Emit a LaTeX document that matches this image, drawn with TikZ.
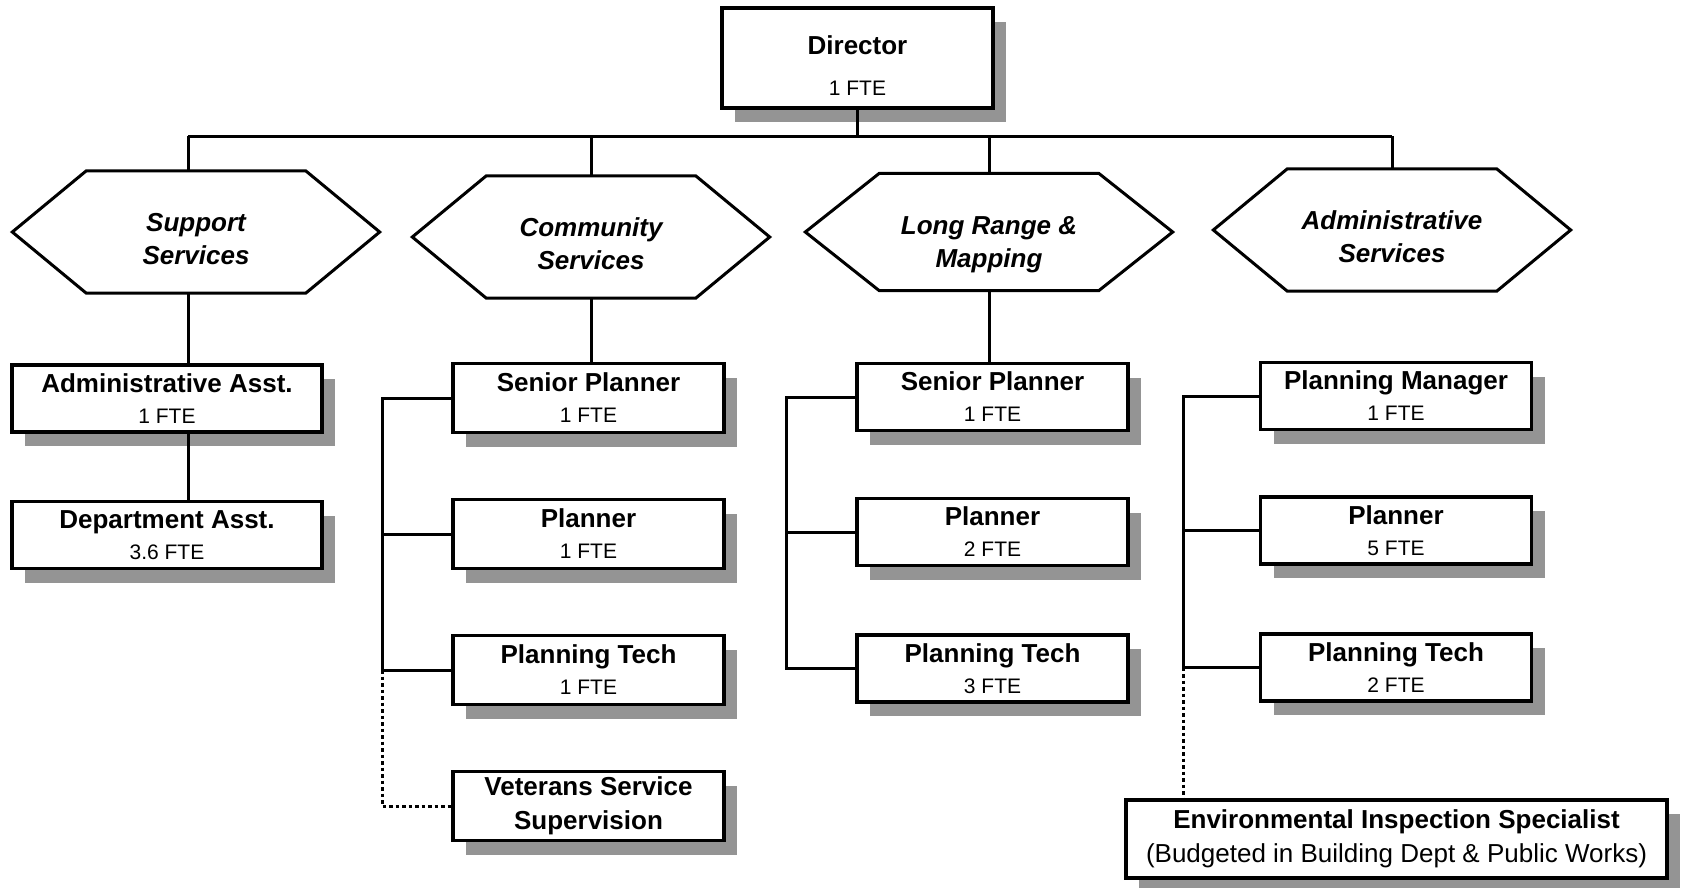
\documentclass[tikz,border=0pt]{standalone}
\usepackage{fontspec}
\setmainfont{Liberation Sans}
\usetikzlibrary{shadows}
\definecolor{shadegray}{gray}{0.58}
\newcommand{\fte}[1]{{\fontsize{21}{31}\selectfont\mdseries #1}}
\newcommand{\drawhex}[1]{\draw[hexline] (#1.west) -- ([xshift=74pt]#1.north west) -- ([xshift=-74pt]#1.north east) -- (#1.east) -- ([xshift=-74pt]#1.south east) -- ([xshift=74pt]#1.south west) -- cycle;}
\begin{document}
\begin{tikzpicture}[x=1pt,y=-1pt,
  box/.style={draw, line width=3.8pt, fill=white, minimum width=271pt, minimum height=67pt,
    inner sep=0pt, align=center, font=\fontsize{26}{31}\selectfont\bfseries,
    drop shadow={shadow xshift=13pt, shadow yshift=-14pt, fill=shadegray, opacity=1}},
  hexlabel/.style={minimum width=367pt, minimum height=122pt, inner sep=0pt, align=center,
    font=\fontsize{26}{33}\selectfont\bfseries\itshape},
  hexline/.style={line width=3pt, line join=miter},
  conn/.style={line width=3pt},
  dotconn/.style={line width=3pt, dash pattern=on 3.5pt off 3pt}]
\useasboundingbox (0,0) rectangle (1685,887);

% Director
\node[box, minimum height=100pt, font=\fontsize{26}{41}\selectfont\bfseries] (dir) at (857.5,58)
  {\rule{0pt}{34pt}Director\\{\fontsize{21}{41}\selectfont\mdseries 1 FTE}};

% Hexagons
\node[hexlabel] (hsup) at (196,232) {\rule{0pt}{33pt}Support\\Services};
\node[hexlabel, minimum width=357pt] (hcom) at (591,237) {\rule{0pt}{33pt}Community\\Services};
\node[hexlabel, minimum height=117pt] (hlr) at (989,232) {\rule{0pt}{44pt}Long Range \&\\Mapping};
\node[hexlabel, minimum width=357pt] (hadm) at (1392,230) {\rule{0pt}{33pt}Administrative\\Services};
\drawhex{hsup}
\drawhex{hcom}
\drawhex{hlr}
\drawhex{hadm}

% Bus
\coordinate (bus) at (0,136);
\coordinate (sstem) at (188,0);
\draw[conn] (dir.south) -- (dir.south |- bus);
\draw[conn] (sstem |- bus) -- (hadm.north |- bus);
\draw[conn] (sstem |- bus) -- (sstem |- hsup.north);
\foreach \h in {hcom,hlr,hadm} \draw[conn] (\h.north |- bus) -- (\h.north);

% Support column
\node[box, minimum width=310pt] (aa) at (167,398.5) {Administrative Asst.\\\fte{1 FTE}};
\node[box, minimum width=310pt] (da) at (167,535) {Department Asst.\\\fte{3.6 FTE}};
\draw[conn] (sstem |- hsup.south) -- (sstem |- aa.north);
\draw[conn] (sstem |- aa.south) -- (sstem |- da.north);

% Community column
\coordinate (cspine) at (382,0);
\node[box, minimum height=69pt] (csp) at (588.5,398) {Senior Planner\\\fte{1 FTE}};
\node[box, minimum height=69pt] (cpl) at (588.5,534) {Planner\\\fte{1 FTE}};
\node[box, minimum height=69pt] (cpt) at (588.5,670) {Planning Tech\\\fte{1 FTE}};
\node[box, minimum height=69pt, font=\fontsize{26}{34}\selectfont\bfseries] (cvet) at (588.5,806) {Veterans Service\\Supervision};
\draw[conn] (hcom.south) -- (hcom.south |- csp.north);
\draw[conn] (csp.west) -- (csp.west -| cspine) -- (cpt.west -| cspine) -- (cpt.west);
\draw[conn] (cpl.west) -- (cpl.west -| cspine);
\draw[dotconn] (cpt.west -| cspine) -- (cvet.west -| cspine) -- (cvet.west);

% Long range column
\coordinate (lspine) at (786,0);
\node[box] (lsp) at (992.5,397) {Senior Planner\\\fte{1 FTE}};
\node[box] (lpl) at (992.5,532) {Planner\\\fte{2 FTE}};
\node[box] (lpt) at (992.5,668.5) {Planning Tech\\\fte{3 FTE}};
\draw[conn] (hlr.south) -- (hlr.south |- lsp.north);
\draw[conn] (lsp.west) -- (lsp.west -| lspine) -- (lpt.west -| lspine) -- (lpt.west);
\draw[conn] (lpl.west) -- (lpl.west -| lspine);

% Administrative column
\coordinate (aspine) at (1183,0);
\node[box] (apm) at (1396,396) {Planning Manager\\\fte{1 FTE}};
\node[box] (apl) at (1396,530.5) {Planner\\\fte{5 FTE}};
\node[box] (apt) at (1396,667.5) {Planning Tech\\\fte{2 FTE}};
\node[box, minimum width=541pt, minimum height=78pt, font=\fontsize{26}{34}\selectfont\bfseries] (env) at (1396.5,839)
  {Environmental Inspection Specialist\\{\mdseries (Budgeted in Building Dept \& Public Works)}};
\draw[conn] (apm.west) -- (apm.west -| aspine) -- (apt.west -| aspine) -- (apt.west);
\draw[conn] (apl.west) -- (apl.west -| aspine);
\draw[dotconn] (apt.west -| aspine) -- (env.north -| aspine);
\end{tikzpicture}
\end{document}
